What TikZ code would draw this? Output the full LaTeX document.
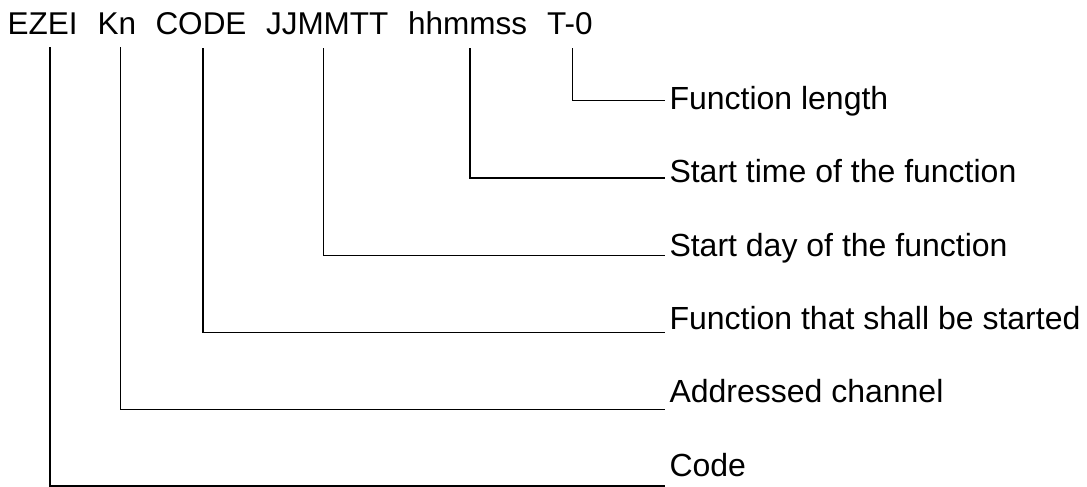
\documentclass[tikz,border=0pt]{standalone}
\usepackage{fontspec}
\setmainfont{Liberation Sans}
\begin{document}
\begin{tikzpicture}[x=1pt,y=-1pt,
  word/.style={anchor=base west,inner sep=0pt,outer sep=0pt,font=\fontsize{31.5}{37}\selectfont},
  lbl/.style={anchor=base west,inner sep=0pt,outer sep=0pt,font=\fontsize{32}{38}\selectfont},
  lead/.style={draw=black,line width=1.3pt,line cap=rect}]
\useasboundingbox (0,0) rectangle (1087,487);
% header words
\node[word] (w1) at (7.6,35) {EZEI};
\node[word] (w2) at (97.7,35) {Kn};
\node[word] (w3) at (155.5,35) {CODE};
\node[word] (w4) at (266,35) {JJMMTT};
\node[word] (w5) at (408,35) {hhmmss};
\node[word] (w6) at (547,35) {T-0};
% labels
\node[lbl] (l6) at (669.5,109) {Function length};
\node[lbl] (l5) at (669.5,182.5) {Start time of the function};
\node[lbl] (l4) at (669.5,256) {Start day of the function};
\node[lbl] (l3) at (669.5,329.2) {Function that shall be started};
\node[lbl] (l2) at (669.5,402.7) {Addressed channel};
\node[lbl] (l1) at (669.5,476.7) {Code};
% leader line ends
\coordinate (e6) at (664.5,100.5);
\coordinate (e5) at (664.5,178);
\coordinate (e4) at (664.5,255.2);
\coordinate (e3) at (664.5,332.2);
\coordinate (e2) at (664.5,409.2);
\coordinate (e1) at (664.5,486);
% leaders
\draw[lead] ([yshift=-13pt]w1.south -| 50,0) |- (e1);
\draw[lead] ([yshift=-13pt]w2.south -| 120.7,0) |- (e2);
\draw[lead] ([yshift=-13pt]w3.south -| 203,0) |- (e3);
\draw[lead] ([yshift=-13pt]w4.south -| 323.3,0) |- (e4);
\draw[lead] ([yshift=-13pt]w5.south -| 470,0) |- (e5);
\draw[lead] ([yshift=-13pt]w6.south -| 572.5,0) |- (e6);
\end{tikzpicture}
\end{document}
